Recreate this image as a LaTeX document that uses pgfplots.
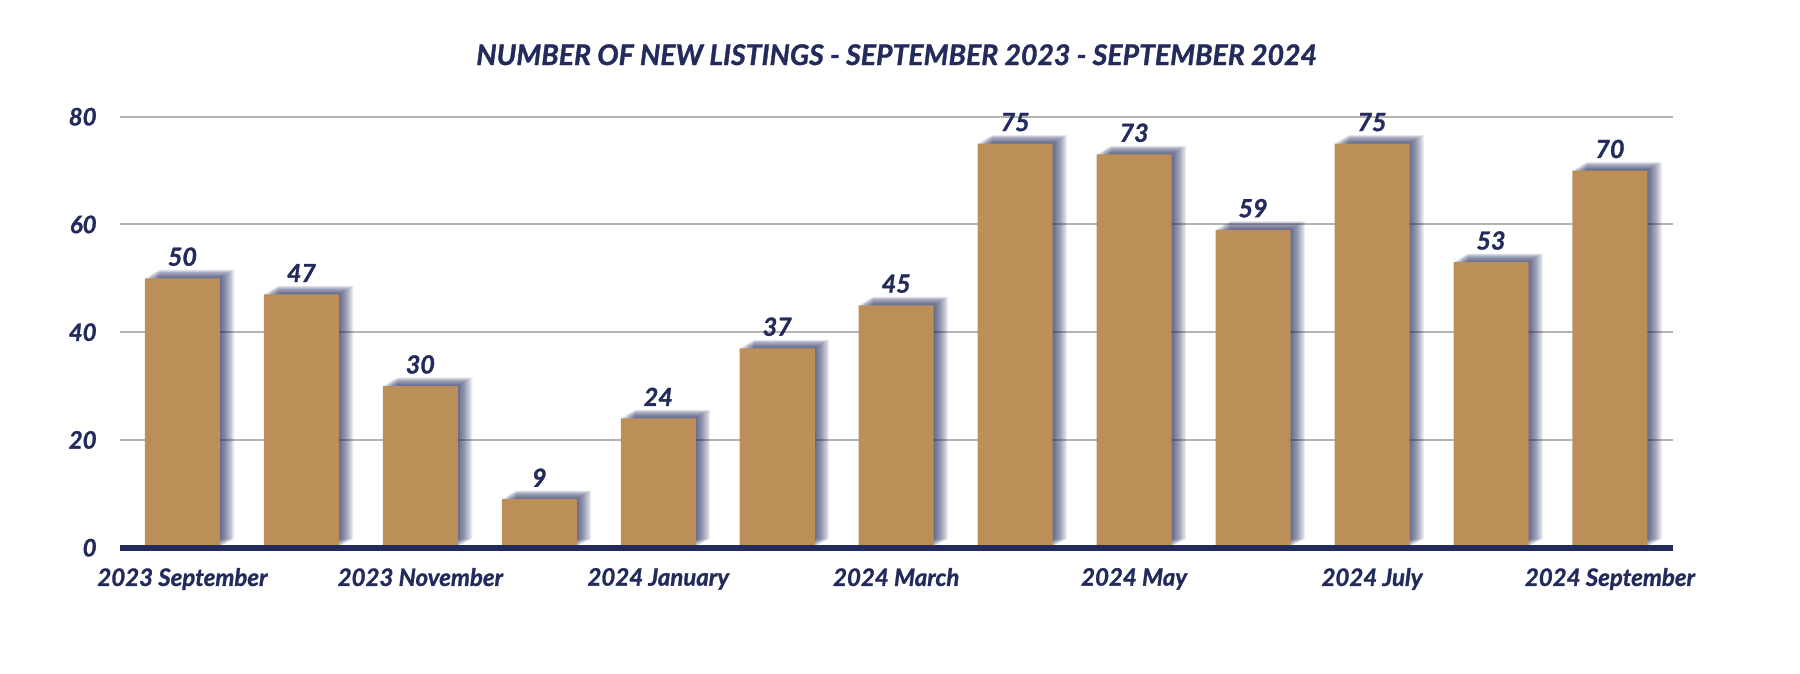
\documentclass[border=0pt]{standalone}
\usepackage{pgfplots}
\pgfplotsset{compat=1.18}
\usepackage{fontspec}
\setmainfont{Lato}[BoldItalicFeatures={FakeBold=1.2}]

\definecolor{navy}{HTML}{232B5C}
\definecolor{barc}{HTML}{BC8F59}
\definecolor{gridc}{HTML}{B3B3B3}

% soft shadow: stacked, shifted copies of each bar
\tikzset{
  sh/.style 2 args={preaction={fill=navy, fill opacity=0.09, draw=none,
      transform canvas={xshift=#1, yshift=#2}}},
}

\begin{document}
\begin{tikzpicture}
\useasboundingbox (0,0) rectangle (900pt,337pt);
\begin{axis}[
    at={(60pt,63.15pt)},
    anchor=south west,
    scale only axis,
    width=776.5pt,
    height=215.5pt,
    ybar,
    bar width=37.5pt,
    xmin=-0.525, xmax=12.53,
    ymin=0, ymax=80,
    clip=false,
    xtick={0,2,...,12},
    xticklabels={2023 September, 2023 November, 2024 January, 2024 March,
                 2024 May, 2024 July, 2024 September},
    ytick={0,20,...,80},
    major tick length=0pt,
    axis line style={draw=none},
    ymajorgrids=true,
    grid style={gridc, line width=1pt},
    /pgf/number format/assume math mode=true,
    tick label style={font=\bfseries\itshape\fontsize{12}{14}\selectfont, text=navy},
    yticklabel style={inner sep=0pt, anchor=east, xshift=-11.5pt},
    xticklabel style={inner sep=0pt, anchor=north, yshift=-10pt},
    title={NUMBER OF NEW LISTINGS - SEPTEMBER 2023 - SEPTEMBER 2024},
    title style={at={(0.5,1)}, anchor=base, yshift=19.85pt, inner sep=0pt,
                 font=\bfseries\itshape\fontsize{14.2}{16}\selectfont, text=navy},
    nodes near coords,
    every node near coord/.append style={anchor=south, inner sep=0pt, yshift=6pt,
        font=\bfseries\itshape\fontsize{12.5}{14}\selectfont, text=navy},
]

\addplot[fill=barc, draw=none,
    sh={0.6pt}{0.4pt}, sh={1.2pt}{0.8pt}, sh={1.8pt}{1.2pt}, sh={2.4pt}{1.6pt},
    sh={3pt}{2pt}, sh={3.6pt}{2.4pt}, sh={4.2pt}{2.8pt}, sh={4.8pt}{3.1pt},
    sh={5.4pt}{3.4pt}, sh={6pt}{3.7pt}, sh={6.6pt}{4pt}, sh={7.2pt}{4.3pt}]
coordinates {
    (0,50) (1,47) (2,30) (3,9) (4,24) (5,37) (6,45)
    (7,75) (8,73) (9,59) (10,75) (11,53) (12,70)
};

\draw[navy, line width=3pt] (axis cs:-0.525,0) -- (axis cs:12.53,0);
\end{axis}
\end{tikzpicture}
\end{document}
